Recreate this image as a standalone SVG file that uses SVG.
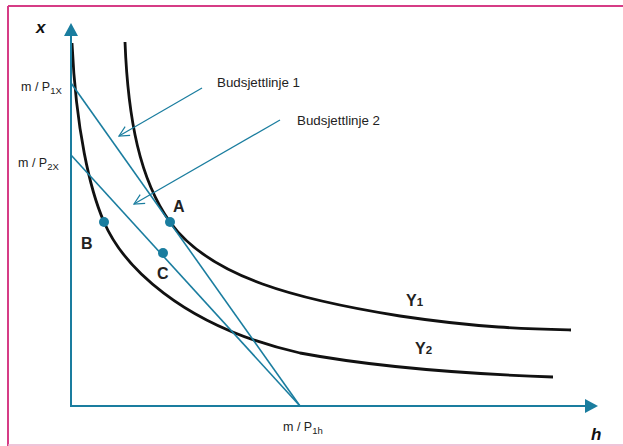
<svg xmlns="http://www.w3.org/2000/svg" width="623" height="446" viewBox="0 0 623 446">
<defs>
<style>
.ax{stroke:#1a7d9f;stroke-width:2;fill:none}
.bl{stroke:#1a7d9f;stroke-width:1.6;fill:none}
.ptr{stroke:#1a7d9f;stroke-width:1.2;fill:none}
.ic{stroke:#111;stroke-width:2.8;fill:none;stroke-linecap:butt}
.t{font-family:"Liberation Sans",Arial,sans-serif;font-size:12.5px;fill:#222}
.lb{font-family:"Liberation Sans",Arial,sans-serif;font-size:16px;font-weight:bold;fill:#222}
.ai{font-family:"Liberation Sans",Arial,sans-serif;font-size:17px;font-weight:bold;font-style:italic;fill:#111}
.dot{fill:#1a7d9f}
</style>
<marker id="open" viewBox="0 0 12 12" refX="11" refY="6" markerWidth="12" markerHeight="12" markerUnits="userSpaceOnUse" orient="auto">
<path d="M1,1 L11,6 L1,11" fill="none" stroke="#1a7d9f" stroke-width="1.2"/>
</marker>
</defs>
<rect width="623" height="446" fill="#fff"/>
<g id="frame">
<line x1="8" y1="6" x2="623" y2="6" stroke="#d63c86" stroke-width="2"/>
<line x1="8" y1="6" x2="8" y2="446" stroke="#d63c86" stroke-width="2"/>
<line x1="8" y1="445" x2="623" y2="445" stroke="#eab0cd" stroke-width="1.5"/>
</g>
<g id="curves">
<path id="Y1" class="ic" d="M125,42 C128,120 140,180 170,222 C210,278 300,300 400,316 C480,328 530,329 571,330"/>
<path id="Y2" class="ic" d="M72,43 C76,130 90,190 104,222 C122,264 180,326 300,353 C380,368 470,374 553,377"/>
</g>
<g id="axes">
<polyline class="ax" points="71,34 71,406 588,406"/>
<polygon class="dot" points="71,23 64,36 78,36"/>
<polygon class="dot" points="598,406 585,399 585,413"/>
</g>
<g id="connectors">
<line class="bl" x1="71" y1="83" x2="300" y2="406"/>
<line class="bl" x1="71" y1="155" x2="300" y2="406"/>
<line class="ptr" x1="202" y1="88" x2="119" y2="136" marker-end="url(#open)"/>
<line class="ptr" x1="280" y1="120" x2="134" y2="204" marker-end="url(#open)"/>
</g>
<g id="points">
<circle id="A" class="dot" cx="170" cy="222" r="5"/>
<circle id="B" class="dot" cx="104" cy="222" r="5"/>
<circle id="C" class="dot" cx="163" cy="253" r="5"/>
</g>
<g id="labels">
<text class="ai" x="36" y="33">x</text>
<text class="ai" x="591" y="440">h</text>
<text class="t" x="21" y="91">m / P<tspan font-size="9.5" dy="3">1X</tspan></text>
<text class="t" x="18" y="167">m / P<tspan font-size="9.5" dy="3">2X</tspan></text>
<text class="t" x="283" y="431">m / P<tspan font-size="9.5" dy="3">1h</tspan></text>
<text class="t" x="217" y="87" textLength="83" lengthAdjust="spacingAndGlyphs">Budsjettlinje 1</text>
<text class="t" x="297" y="125" textLength="83" lengthAdjust="spacingAndGlyphs">Budsjettlinje 2</text>
<text class="lb" x="173" y="212">A</text>
<text class="lb" x="81" y="249">B</text>
<text class="lb" x="157" y="279">C</text>
<text class="lb" x="406" y="306">Y<tspan font-size="11.5">1</tspan></text>
<text class="lb" x="415" y="354">Y<tspan font-size="11.5">2</tspan></text>
</g>
</svg>
